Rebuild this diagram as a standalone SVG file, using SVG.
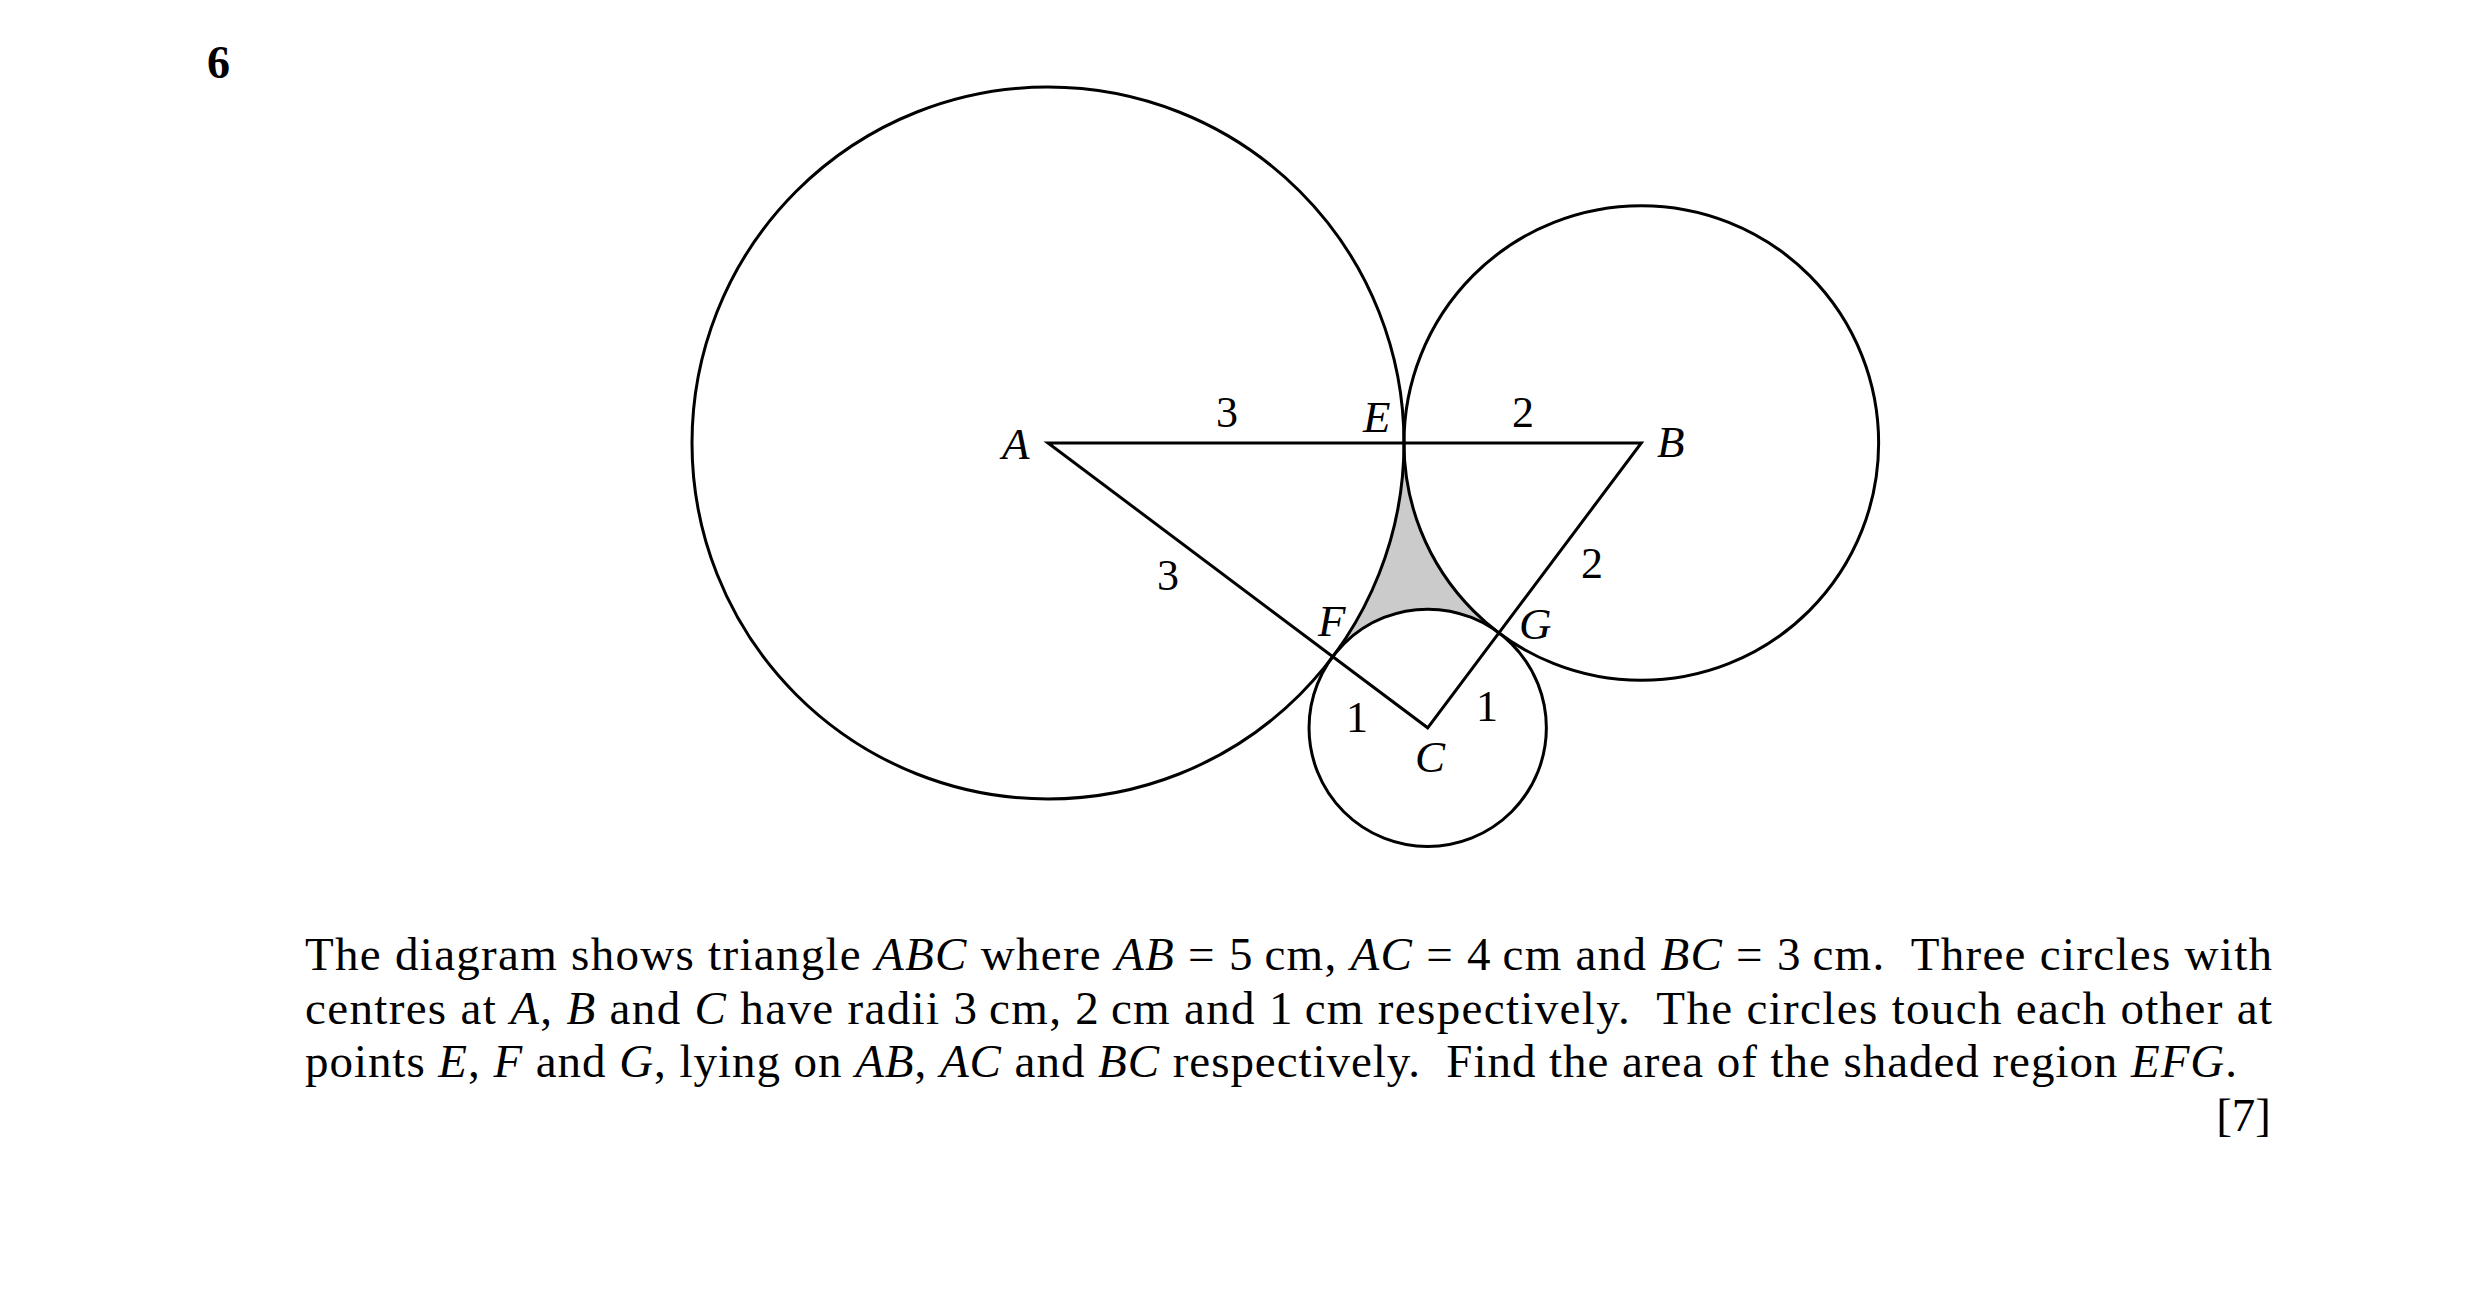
<svg xmlns="http://www.w3.org/2000/svg" width="2480" height="1292" viewBox="0 0 2480 1292">
<style>
.ln{fill:none;stroke:#000;stroke-width:3}
.lbl{font-family:"Liberation Serif","Times New Roman",serif;font-size:45px;font-style:italic;fill:#000}
.num{font-family:"Liberation Serif","Times New Roman",serif;font-size:44px;fill:#000}
.body{font-family:"Liberation Serif","Times New Roman",serif;font-size:47px;fill:#000}
.it{font-style:italic}
</style>
<rect width="2480" height="1292" fill="#fff"/>
<text x="207" y="78" font-family="'Liberation Serif','Times New Roman',serif" font-size="46" font-weight="bold">6</text>

<g id="shaded-EFG">
<path d="M1404,443 A356,356 0 0 1 1332.8,656.6 A118.67,118.67 0 0 1 1498.9,632.9 A237.33,237.33 0 0 1 1404,443 Z" fill="#cbcbcb" stroke="none"/>
</g>

<g id="circle-A">
<circle class="ln" cx="1048" cy="443" r="356"/>
<text class="lbl" x="1002" y="459">A</text>
</g>
<g id="circle-B">
<circle class="ln" cx="1641.3" cy="443" r="237.33"/>
<text class="lbl" x="1657" y="457">B</text>
</g>
<g id="circle-C">
<circle class="ln" cx="1427.7" cy="727.8" r="118.67"/>
<text class="lbl" x="1415" y="772">C</text>
</g>

<g id="connectors">
<polygon class="ln" points="1048,443 1641.3,443 1427.7,727.8" stroke-linejoin="miter" stroke-miterlimit="10"/>
</g>

<g id="points">
<text class="lbl" x="1363" y="432">E</text>
<text class="lbl" x="1318" y="636">F</text>
<text class="lbl" x="1519" y="639">G</text>
</g>

<g id="edge-labels" text-anchor="middle">
<text class="num" x="1227" y="427">3</text>
<text class="num" x="1168" y="590">3</text>
<text class="num" x="1523" y="427">2</text>
<text class="num" x="1592" y="578">2</text>
<text class="num" x="1357" y="732">1</text>
<text class="num" x="1487" y="721">1</text>
</g>

<g id="question-text">
<text class="body" x="305" y="970" textLength="1967" lengthAdjust="spacing" xml:space="preserve">The diagram shows triangle <tspan class="it">ABC</tspan> where <tspan class="it">AB</tspan> = 5&#8201;cm, <tspan class="it">AC</tspan> = 4&#8201;cm and <tspan class="it">BC</tspan> = 3&#8201;cm.  Three circles with</text>
<text class="body" x="305" y="1024" textLength="1967" lengthAdjust="spacing" xml:space="preserve">centres at <tspan class="it">A</tspan>, <tspan class="it">B</tspan> and <tspan class="it">C</tspan> have radii 3&#8201;cm, 2&#8201;cm and 1&#8201;cm respectively.  The circles touch each other at</text>
<text class="body" x="305" y="1077" textLength="1932" lengthAdjust="spacing" xml:space="preserve">points <tspan class="it">E</tspan>, <tspan class="it">F</tspan> and <tspan class="it">G</tspan>, lying on <tspan class="it">AB</tspan>, <tspan class="it">AC</tspan> and <tspan class="it">BC</tspan> respectively.  Find the area of the shaded region <tspan class="it">EFG</tspan>.</text>
<text class="body" x="2271" y="1131" text-anchor="end">[7]</text>
</g>
</svg>
